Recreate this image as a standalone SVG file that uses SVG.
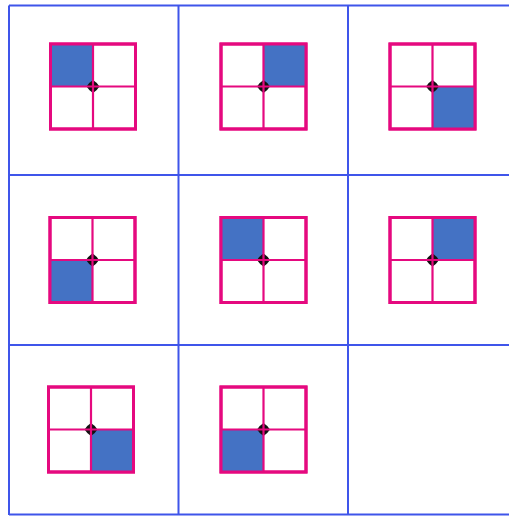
<svg xmlns="http://www.w3.org/2000/svg" width="509" height="516" viewBox="0 0 509 516">
<defs>
<style>
.grid{stroke:#3f55ea;stroke-width:2;fill:none}
.box{fill:#fff;stroke:#e5097f;stroke-width:3}
.ln{stroke:#e5097f;stroke-width:2.2}
.q{fill:#4472c4}
.pt{fill:#111}
</style>
<g id="tile">
<rect class="box" x="-42.5" y="-42.5" width="85" height="85"/>
</g>
<g id="cross">
<path class="pt" d="M0,-6.5 Q4,-4 6.5,0 Q4,4 0,6.5 Q-4,4 -6.5,0 Q-4,-4 0,-6.5Z"/>
<line class="ln" x1="0" y1="-42.5" x2="0" y2="42.5"/>
<line class="ln" x1="-42.5" y1="0" x2="42.5" y2="0"/>
<rect x="-42.5" y="-42.5" width="85" height="85" fill="none" stroke="#e5097f" stroke-width="3"/>
</g>
</defs>
<rect width="509" height="516" fill="#fff"/>
<g id="grid">
<line class="grid" x1="9" y1="5.5" x2="509" y2="5.5"/>
<line class="grid" x1="9" y1="175" x2="509" y2="175"/>
<line class="grid" x1="9" y1="345" x2="509" y2="345"/>
<line class="grid" x1="9" y1="514.5" x2="509" y2="514.5"/>
<line class="grid" x1="9" y1="5.5" x2="9" y2="515"/>
<line class="grid" x1="178.5" y1="5.5" x2="178.5" y2="515"/>
<line class="grid" x1="348" y1="5.5" x2="348" y2="515"/>
</g>
<g id="n1" transform="translate(93,86.5)">
<use href="#tile"/><rect class="q" x="-42.5" y="-42.5" width="42.5" height="42.5"/><use href="#cross"/>
</g>
<g id="n2" transform="translate(263.5,86.5)">
<use href="#tile"/><rect class="q" x="0" y="-42.5" width="42.5" height="42.5"/><use href="#cross"/>
</g>
<g id="n3" transform="translate(432.5,86.5)">
<use href="#tile"/><rect class="q" x="0" y="0" width="42.5" height="42.5"/><use href="#cross"/>
</g>
<g id="n4" transform="translate(92.5,260)">
<use href="#tile"/><rect class="q" x="-42.5" y="0" width="42.5" height="42.5"/><use href="#cross"/>
</g>
<g id="n5" transform="translate(263.5,260)">
<use href="#tile"/><rect class="q" x="-42.5" y="-42.5" width="42.5" height="42.5"/><use href="#cross"/>
</g>
<g id="n6" transform="translate(432.5,260)">
<use href="#tile"/><rect class="q" x="0" y="-42.5" width="42.5" height="42.5"/><use href="#cross"/>
</g>
<g id="n7" transform="translate(91,429.5)">
<use href="#tile"/><rect class="q" x="0" y="0" width="42.5" height="42.5"/><use href="#cross"/>
</g>
<g id="n8" transform="translate(263.5,429.5)">
<use href="#tile"/><rect class="q" x="-42.5" y="0" width="42.5" height="42.5"/><use href="#cross"/>
</g>
</svg>
